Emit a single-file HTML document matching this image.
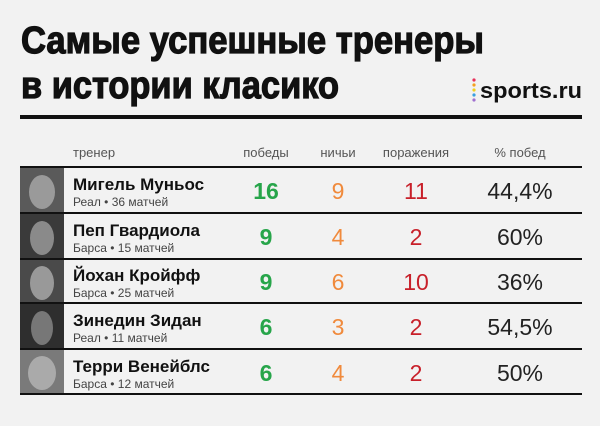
<!DOCTYPE html>
<html><head><meta charset="utf-8"><style>body{margin:0;background:#f2f2f2}svg{display:block}</style></head><body>
<svg width="600" height="426" viewBox="0 0 600 426" xmlns="http://www.w3.org/2000/svg" font-family="Liberation Sans, DejaVu Sans, sans-serif">
<rect width="600" height="426" fill="#f2f2f2"/>
<text x="21" y="53" font-size="38" font-weight="bold" fill="#111" stroke="#111" stroke-width="1.2" textLength="463" lengthAdjust="spacingAndGlyphs">Самые успешные тренеры</text>
<text x="21" y="98" font-size="38" font-weight="bold" fill="#111" stroke="#111" stroke-width="1.2" textLength="318" lengthAdjust="spacingAndGlyphs">в истории класико</text>
<circle cx="474" cy="80" r="1.6" fill="#e8305a"/><circle cx="474" cy="85" r="1.6" fill="#f4a020"/><circle cx="474" cy="90" r="1.6" fill="#f0d020"/><circle cx="474" cy="95" r="1.6" fill="#3aa0e0"/><circle cx="474" cy="100" r="1.6" fill="#a070d0"/>
<text x="480" y="98" font-size="22" font-weight="bold" fill="#111" textLength="102" lengthAdjust="spacingAndGlyphs">sports.ru</text>
<rect x="20" y="115" width="562" height="4" fill="#111"/>
<g font-size="13" fill="#555">
<text x="73" y="157">тренер</text>
<text x="266" y="157" text-anchor="middle">победы</text>
<text x="338" y="157" text-anchor="middle">ничьи</text>
<text x="416" y="157" text-anchor="middle">поражения</text>
<text x="520" y="157" text-anchor="middle">% побед</text>
</g>
<g fill="#111">
<rect x="20" y="166" width="562" height="2"/>
<rect x="20" y="212" width="562" height="2"/>
<rect x="20" y="258" width="562" height="2"/>
<rect x="20" y="302" width="562" height="2"/>
<rect x="20" y="348" width="562" height="2"/>
<rect x="20" y="393" width="562" height="2"/>
</g>
<g>
<rect x="20" y="168" width="44" height="44" fill="#5a5a5a"/>
<rect x="20" y="214" width="44" height="44" fill="#3a3a3a"/>
<rect x="20" y="260" width="44" height="42" fill="#4a4a4a"/>
<rect x="20" y="304" width="44" height="44" fill="#2e2e2e"/>
<rect x="20" y="350" width="44" height="43" fill="#7a7a7a"/>
<ellipse cx="42" cy="192" rx="13" ry="17" fill="#9a9a9a"/>
<ellipse cx="42" cy="238" rx="12" ry="17" fill="#8a8a8a"/>
<ellipse cx="42" cy="283" rx="12" ry="17" fill="#999"/>
<ellipse cx="42" cy="328" rx="11" ry="17" fill="#777"/>
<ellipse cx="42" cy="373" rx="14" ry="17" fill="#aaa"/>
</g>
<g font-size="17" font-weight="bold" fill="#111">
<text x="73" y="190">Мигель Муньос</text>
<text x="73" y="236">Пеп Гвардиола</text>
<text x="73" y="281">Йохан Кройфф</text>
<text x="73" y="326">Зинедин Зидан</text>
<text x="73" y="372">Терри Венейблс</text>
</g>
<g font-size="12" fill="#444">
<text x="73" y="206">Реал • 36 матчей</text>
<text x="73" y="252">Барса • 15 матчей</text>
<text x="73" y="297">Барса • 25 матчей</text>
<text x="73" y="342">Реал • 11 матчей</text>
<text x="73" y="388">Барса • 12 матчей</text>
</g>
<g font-size="23" text-anchor="middle">
<g fill="#27a54a" font-weight="bold">
<text x="266" y="199">16</text><text x="266" y="245">9</text><text x="266" y="290">9</text><text x="266" y="335">6</text><text x="266" y="381">6</text>
</g>
<g fill="#f08a3c">
<text x="338" y="199">9</text><text x="338" y="245">4</text><text x="338" y="290">6</text><text x="338" y="335">3</text><text x="338" y="381">4</text>
</g>
<g fill="#c8202a">
<text x="416" y="199">11</text><text x="416" y="245">2</text><text x="416" y="290">10</text><text x="416" y="335">2</text><text x="416" y="381">2</text>
</g>
<g fill="#222">
<text x="520" y="199">44,4%</text><text x="520" y="245">60%</text><text x="520" y="290">36%</text><text x="520" y="335">54,5%</text><text x="520" y="381">50%</text>
</g>
</g>
</svg>
</body></html>
